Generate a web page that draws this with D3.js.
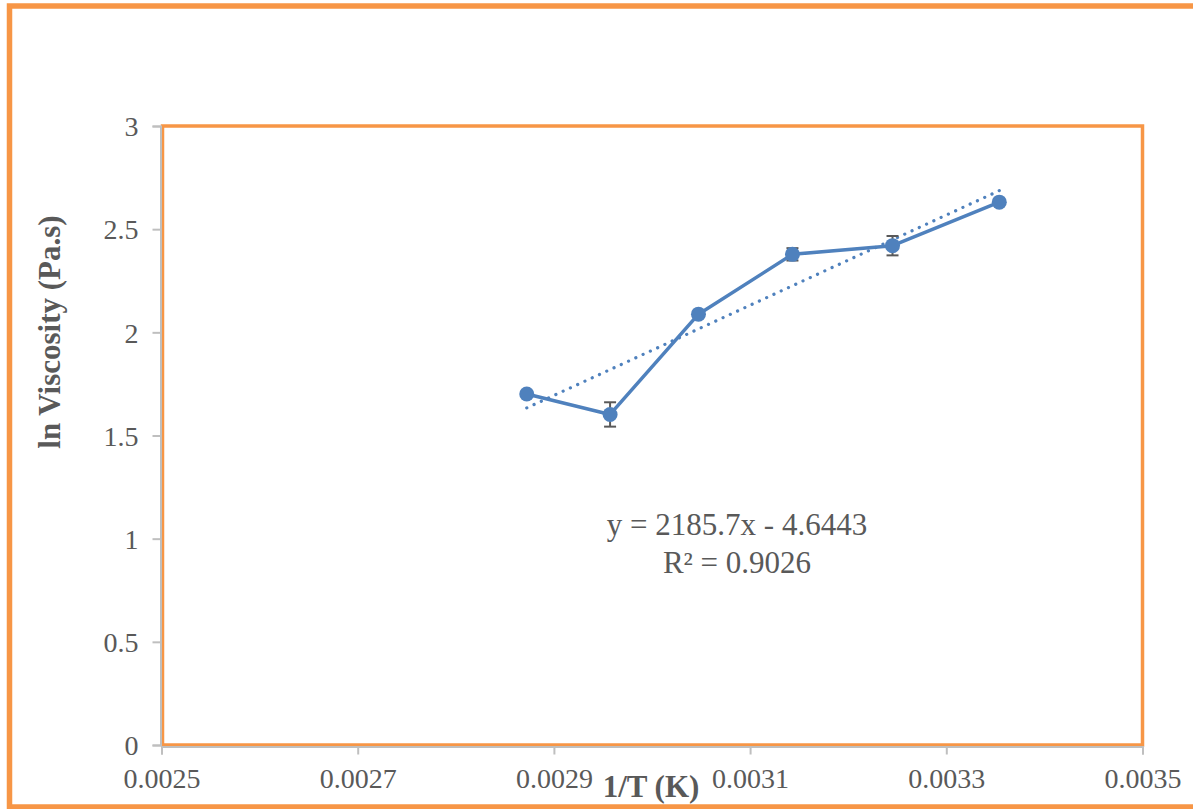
<!DOCTYPE html>
<html>
<head>
<meta charset="utf-8">
<script src="https://cdn.jsdelivr.net/npm/d3@7"></script>
<style>
  html, body { margin: 0; padding: 0; background: #fff; }
  svg { display: block; }
</style>
</head>
<body>
<svg id="chart" width="1193" height="809"></svg>
<script>
// Arrhenius-type plot: ln viscosity against reciprocal absolute temperature
const tempsC = [75, 65, 55, 45, 35, 25];
const invT = tempsC.map(t => 1 / (t + 273.15));
const lnVisc = [1.701, 1.602, 2.088, 2.378, 2.420, 2.631];
const lnViscErr = [0.010, 0.059, 0.010, 0.030, 0.047, 0.010];

// linear fit shown on the chart
const fitSlope = 2185.7;
const fitIntercept = -4.6443;
const fitR2 = 0.9026;

const xTicks = [0.0025, 0.0027, 0.0029, 0.0031, 0.0033, 0.0035];
const yTicks = [0, 0.5, 1, 1.5, 2, 2.5, 3];

const blue = "#4F81BD";
const orange = "#F79646";
const grey = "#595959";
const axisGrey = "#BFBFBF";
const serif = "'Liberation Serif', 'Times New Roman', serif";

const svg = d3.select("#chart");

// chart area frame
svg.append("rect")
  .attr("x", 9.5).attr("y", 6)
  .attr("width", 1200).attr("height", 801)
  .attr("fill", "#fff")
  .attr("stroke", orange).attr("stroke-width", 5.5);

const plot = { left: 161.5, right: 1142.5, top: 126, bottom: 745 };

const x = d3.scaleLinear().domain([0.0025, 0.0035]).range([plot.left, plot.right]);
const y = d3.scaleLinear().domain([0, 3]).range([plot.bottom, plot.top]);

// plot area frame
svg.append("rect")
  .attr("x", plot.left + 1).attr("y", plot.top)
  .attr("width", plot.right - plot.left - 1).attr("height", plot.bottom - plot.top)
  .attr("fill", "#fff")
  .attr("stroke", orange).attr("stroke-width", 3.5);

// axes
const xAxis = svg.append("g")
  .attr("transform", `translate(0,${plot.bottom + 1.5})`)
  .call(d3.axisBottom(x).tickValues(xTicks).tickSize(8).tickPadding(14)
    .tickFormat(d3.format(".4f")));
const yAxis = svg.append("g")
  .attr("transform", `translate(${plot.left - 1},0)`)
  .call(d3.axisLeft(y).tickValues(yTicks).tickSize(8).tickPadding(14)
    .tickFormat(d => String(d)));

[xAxis, yAxis].forEach(g => {
  g.select(".domain").attr("stroke", axisGrey).attr("stroke-width", 2);
  g.selectAll(".tick line").attr("stroke", axisGrey).attr("stroke-width", 2);
  g.selectAll(".tick text")
    .attr("fill", grey)
    .style("font-family", serif)
    .style("font-size", "28px");
});
yAxis.selectAll(".tick text").attr("dy", "0.35em");
xAxis.selectAll(".tick text").attr("dy", "0.71em");

// trendline from fit coefficients, over the data range
const xFit = d3.extent(invT);
svg.append("line")
  .attr("x1", x(xFit[0])).attr("y1", y(fitSlope * xFit[0] + fitIntercept))
  .attr("x2", x(xFit[1])).attr("y2", y(fitSlope * xFit[1] + fitIntercept))
  .attr("stroke", blue).attr("stroke-width", 3.2)
  .attr("stroke-linecap", "round")
  .attr("stroke-dasharray", "0.1 7.9");

// error bars
const errG = svg.append("g").attr("stroke", grey).attr("stroke-width", 2);
invT.forEach((xv, i) => {
  const cx = x(xv);
  const y1 = y(lnVisc[i] + lnViscErr[i]);
  const y2 = y(lnVisc[i] - lnViscErr[i]);
  errG.append("line").attr("x1", cx).attr("x2", cx).attr("y1", y1).attr("y2", y2);
  errG.append("line").attr("x1", cx - 6).attr("x2", cx + 6).attr("y1", y1).attr("y2", y1);
  errG.append("line").attr("x1", cx - 6).attr("x2", cx + 6).attr("y1", y2).attr("y2", y2);
});

// data line and markers
const pts = invT.map((xv, i) => [xv, lnVisc[i]]);
svg.append("path")
  .datum(pts)
  .attr("fill", "none")
  .attr("stroke", blue).attr("stroke-width", 3.5)
  .attr("stroke-linejoin", "round")
  .attr("d", d3.line().x(d => x(d[0])).y(d => y(d[1])));

svg.append("g").selectAll("circle")
  .data(pts)
  .join("circle")
  .attr("cx", d => x(d[0])).attr("cy", d => y(d[1]))
  .attr("r", 7.5)
  .attr("fill", blue);

// fit equation
const eq = svg.append("text")
  .attr("text-anchor", "middle")
  .attr("fill", grey)
  .style("font-family", serif)
  .style("font-size", "31px");
eq.append("tspan").attr("x", 737).attr("y", 535)
  .text(`y = ${fitSlope}x - ${Math.abs(fitIntercept)}`);
eq.append("tspan").attr("x", 737).attr("y", 573)
  .text(`R² = ${fitR2}`);

// axis titles
svg.append("text")
  .attr("x", 651).attr("y", 797)
  .attr("text-anchor", "middle")
  .attr("fill", grey)
  .style("font-family", serif)
  .style("font-size", "31px")
  .style("font-weight", "bold")
  .text("1/T (K)");

svg.append("text")
  .attr("transform", "translate(60,332) rotate(-90)")
  .attr("text-anchor", "middle")
  .attr("fill", grey)
  .style("font-family", serif)
  .style("font-size", "31px")
  .style("font-weight", "bold")
  .text("ln Viscosity (Pa.s)");
</script>
</body>
</html>
